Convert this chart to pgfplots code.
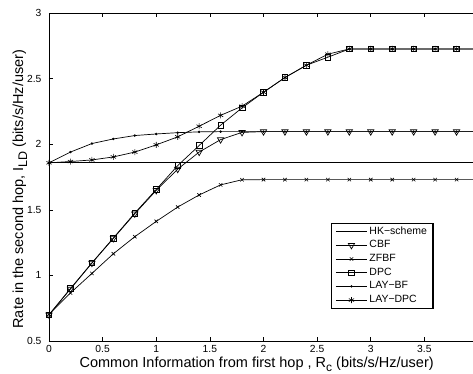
\documentclass[border=0pt]{standalone}
\usepackage{pgfplots}
\pgfplotsset{compat=1.18}
\usepackage{fontspec}
\setmainfont{Liberation Sans}
\begin{document}
\begin{tikzpicture}[x=1pt,y=1pt]
\begin{axis}[
  at={(0pt,0pt)}, anchor=south west,
  scale only axis, width=429pt, height=328pt,
  xmin=0, xmax=4, ymin=0.5, ymax=3,
  xtick={0,0.5,1,1.5,2,2.5,3,3.5},
  ytick={0.5,1,1.5,2,2.5,3},
  tick align=inside, major tick length=4pt,
  tick style={black, line width=0.6pt},
  axis line style={line width=0.9pt},
  xticklabel style={font=\fontsize{10.3}{12}\selectfont, yshift=-1pt},
  yticklabel style={font=\fontsize{10.3}{12}\selectfont, xshift=-4pt},
  /pgf/number format/assume math mode=true,
  xlabel={Common Information from first hop , R\raisebox{-3.5pt}{\fontsize{12}{12}\selectfont c} (bits/s/Hz/user)},
  ylabel={Rate in the second hop, I\raisebox{-4pt}{\fontsize{12.5}{12}\selectfont LD} (bits/s/Hz/user)},
  label style={font=\fontsize{14.5}{16}\selectfont},
  xlabel style={at={(axis description cs:0.484,-0.081)}, anchor=base},
  ylabel style={at={(axis description cs:-0.0606,0.463)}, anchor=base},
  legend style={at={(0.657,0.36)}, anchor=north west, draw=black, line width=1.2pt,
    font=\fontsize{10.5}{12}\selectfont, inner xsep=4pt, inner ysep=3pt, row sep=3.6pt,
    nodes={inner xsep=2pt, inner ysep=0pt, text height=7.6pt, text depth=2.5pt},
    cells={anchor=west}},
  legend image code/.code={\draw[mark repeat=2,mark phase=2,#1] plot coordinates {(0pt,0pt) (15.5pt,0pt) (31pt,0pt)};},
  every axis plot/.append style={black, line width=0.7pt, mark options={solid, line width=0.6pt}},
]
\addplot[no marks, line width=1pt] coordinates {(0,1.858) (4,1.858)};
\addlegendentry{HK−scheme}
\addplot[mark=triangle, mark size=3.6pt, mark options={rotate=180, fill=white}] coordinates {
(0,0.70)(0.2,0.896)(0.4,1.094)(0.6,1.282)(0.8,1.47)(1.0,1.648)(1.2,1.81)(1.4,1.94)(1.6,2.035)(1.8,2.09)(2.0,2.096)(2.2,2.096)(2.4,2.096)(2.6,2.096)(2.8,2.096)(3.0,2.096)(3.2,2.096)(3.4,2.096)(3.6,2.096)(3.8,2.096)(4.0,2.096)};
\addlegendentry{CBF}
\addplot[mark=x, mark size=2.4pt] coordinates {
(0,0.703)(0.2,0.866)(0.4,1.015)(0.6,1.165)(0.8,1.295)(1.0,1.412)(1.2,1.521)(1.4,1.613)(1.6,1.69)(1.8,1.729)(2.0,1.73)(2.2,1.73)(2.4,1.73)(2.6,1.73)(2.8,1.73)(3.0,1.73)(3.2,1.73)(3.4,1.73)(3.6,1.73)(3.8,1.73)(4.0,1.73)};
\addlegendentry{ZFBF}
\addplot[mark=square, mark size=2.8pt] coordinates {
(0,0.70)(0.2,0.90)(0.4,1.095)(0.6,1.285)(0.8,1.475)(1.0,1.655)(1.2,1.837)(1.4,1.99)(1.6,2.145)(1.8,2.277)(2.0,2.396)(2.2,2.508)(2.4,2.602)(2.6,2.663)(2.8,2.726)(3.0,2.726)(3.2,2.726)(3.4,2.726)(3.6,2.726)(3.8,2.726)(4.0,2.726)};
\addlegendentry{DPC}
\addplot[mark=*, mark size=0.9pt] coordinates {
(0,1.858)(0.2,1.94)(0.4,2.005)(0.6,2.04)(0.8,2.066)(1.0,2.078)(1.2,2.088)(1.4,2.094)(1.6,2.096)(1.8,2.096)(2.0,2.096)(2.2,2.096)(2.4,2.096)(2.6,2.096)(2.8,2.096)(3.0,2.096)(3.2,2.096)(3.4,2.096)(3.6,2.096)(3.8,2.096)(4.0,2.096)};
\addlegendentry{LAY−BF}
\addplot[mark=asterisk, mark size=3pt] coordinates {
(0,1.858)(0.2,1.868)(0.4,1.88)(0.6,1.903)(0.8,1.94)(1.0,1.995)(1.2,2.056)(1.4,2.137)(1.6,2.22)(1.8,2.29)(2.0,2.396)(2.2,2.508)(2.4,2.602)(2.6,2.686)(2.8,2.726)(3.0,2.726)(3.2,2.726)(3.4,2.726)(3.6,2.726)(3.8,2.726)(4.0,2.726)};
\addlegendentry{LAY−DPC}
\end{axis}
\pgfresetboundingbox
\path[use as bounding box] (-49pt,-32pt) rectangle (424pt,341pt);
\end{tikzpicture}
\end{document}
